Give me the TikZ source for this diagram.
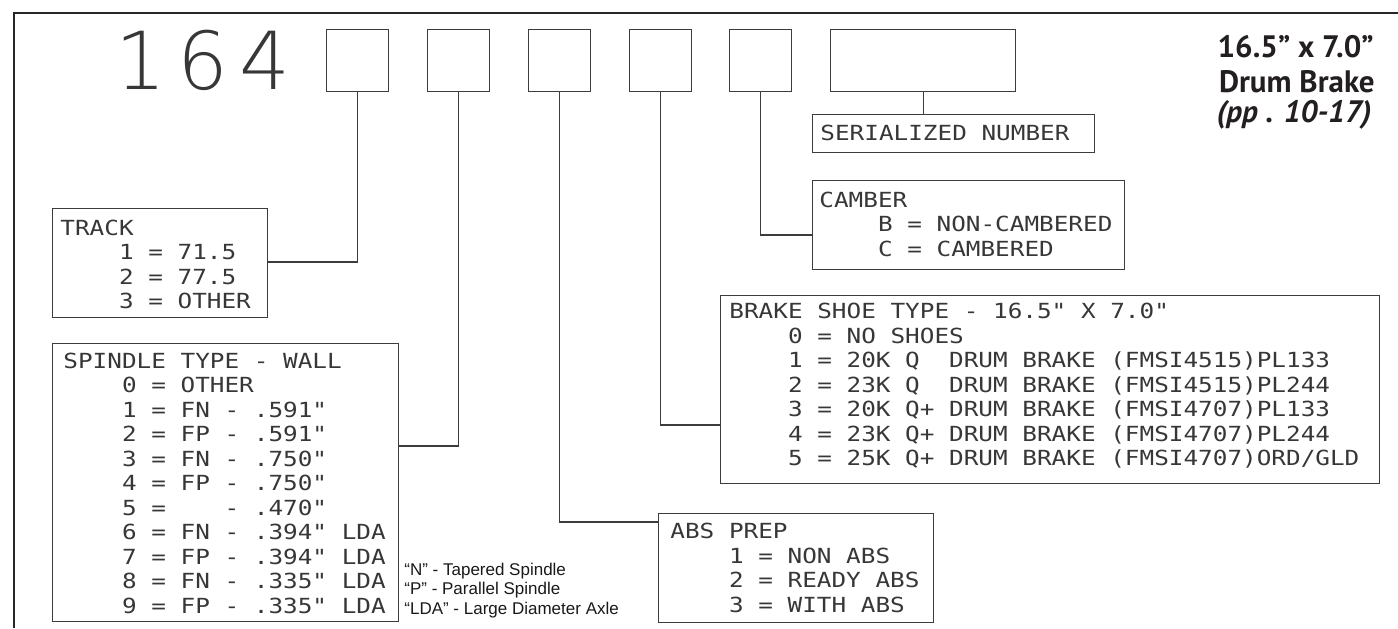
\documentclass[tikz,border=0pt]{standalone}
\usepackage{fontspec}
\setmainfont{Liberation Sans}
\newfontfamily\cad[FakeStretch=1.17]{DejaVu Sans Mono}
\newfontfamily\thinfont[LetterSpace=14]{DejaVu Sans ExtraLight}
\newfontfamily\titlefont{PT Sans}
\newfontfamily\notefont{Liberation Sans}
\definecolor{linegray}{RGB}{60,60,60}
\definecolor{cadgray}{RGB}{55,55,55}
\definecolor{titleblack}{RGB}{35,31,32}
\newcommand\ind{\phantom{0000}}
\tikzset{
  box/.style={draw=linegray, line width=0.65pt, inner sep=0pt, anchor=north west},
  conn/.style={draw=linegray, line width=0.65pt},
  cadtext/.style={font=\cad\fontsize{10.4}{12.25}\selectfont, text=cadgray, align=left, anchor=base west, inner sep=0pt},
  titletext/.style={font=\titlefont\bfseries\fontsize{15.5}{18}\selectfont, text=titleblack, anchor=base east, inner sep=0pt},
  notetext/.style={font=\notefont\fontsize{8.5}{9.75}\selectfont, text=black!90, align=left, anchor=base west, inner sep=0pt},
}
\begin{document}
\begin{tikzpicture}[x=0.5pt,y=-0.5pt]
\useasboundingbox (0,0) rectangle (1398,628);
% frame (cropped)
\draw[draw=black!85, line width=1.3pt, line join=miter] (14,628) -- (14,13) -- (1398,13);
% part number
\node[font=\thinfont\fontsize{40}{40}\selectfont, text=cadgray, inner sep=0pt, anchor=center] (pn) at (203,60) {164};
\node[box, minimum width=31pt, minimum height=31pt] (b1) at (326,29) {};
\node[box, minimum width=31pt, minimum height=31pt] (b2) at (427,29) {};
\node[box, minimum width=31pt, minimum height=31pt] (b3) at (528,29) {};
\node[box, minimum width=31pt, minimum height=31pt] (b4) at (629,29) {};
\node[box, minimum width=31pt, minimum height=31pt] (b5) at (729,29) {};
\node[box, minimum width=92.5pt, minimum height=31pt] (b6) at (830,29) {};
% description boxes
\node[box, minimum width=141pt, minimum height=19pt] (serial) at (812,114) {};
\node[box, minimum width=156pt, minimum height=44.5pt] (camber) at (812,180) {};
\node[box, minimum width=329.5pt, minimum height=94pt] (brake) at (720,295) {};
\node[box, minimum width=137.5pt, minimum height=54.5pt] (abs) at (658,513) {};
\node[box, minimum width=107.5pt, minimum height=54.5pt] (track) at (52,208) {};
\node[box, minimum width=173pt, minimum height=139pt] (spindle) at (52,343) {};
% texts (anchored at the baseline of the last line)
\node[cadtext] (serialT) at (820,140.5) {SERIALIZED NUMBER};
\node[cadtext] (camberT) at (819,256) {CAMBER\\\ind B = NON-CAMBERED\\\ind C = CAMBERED};
\node[cadtext] (brakeT) at (729,465.5) {BRAKE SHOE TYPE - 16.5" X 7.0"\\
\ind 0 = NO SHOES\\
\ind 1 = 20K Q\ \ DRUM BRAKE (FMSI4515)PL133\\
\ind 2 = 23K Q\ \ DRUM BRAKE (FMSI4515)PL244\\
\ind 3 = 20K Q+ DRUM BRAKE (FMSI4707)PL133\\
\ind 4 = 23K Q+ DRUM BRAKE (FMSI4707)PL244\\
\ind 5 = 25K Q+ DRUM BRAKE (FMSI4707)ORD/GLD};
\node[cadtext] (absT) at (670,612) {ABS PREP\\\ind 1 = NON ABS\\\ind 2 = READY ABS\\\ind 3 = WITH ABS};
\node[cadtext] (trackT) at (60,308.5) {TRACK\\\ind 1 = 71.5\\\ind 2 = 77.5\\\ind 3 = OTHER};
\node[cadtext] (spindleT) at (63,613) {SPINDLE TYPE - WALL\\
\ind 0 = OTHER\\
\ind 1 = FN - .591"\\
\ind 2 = FP - .591"\\
\ind 3 = FN - .750"\\
\ind 4 = FP - .750"\\
\ind 5 = \phantom{FN} - .470"\\
\ind 6 = FN - .394" LDA\\
\ind 7 = FP - .394" LDA\\
\ind 8 = FN - .335" LDA\\
\ind 9 = FP - .335" LDA};
\node[notetext] (notes) at (404,614) {“N” - Tapered Spindle\\“P” - Parallel Spindle\\“LDA” - Large Diameter Axle};
% title
\node[titletext] (t1) at (1374,57) {16.5” x 7.0”};
\node[titletext] (t2) at (1375,92) {Drum Brake};
\node[titletext, font=\titlefont\bfseries\itshape\fontsize{15.5}{18}\selectfont] (t3) at (1372,122) {(pp . 10-17)};
% connectors
\draw[conn] (b1.south) |- (track.east |- 0,262);
\draw[conn] (b2.south) |- (spindle.east |- 0,446);
\draw[conn] (b3.south) |- (abs.west |- 0,522);
\draw[conn] (b4.south) |- (brake.west |- 0,425);
\draw[conn] (b5.south) |- (camber.west |- 0,235);
\draw[conn] (b6.south) -- (b6.south |- serial.north);
\end{tikzpicture}
\end{document}
